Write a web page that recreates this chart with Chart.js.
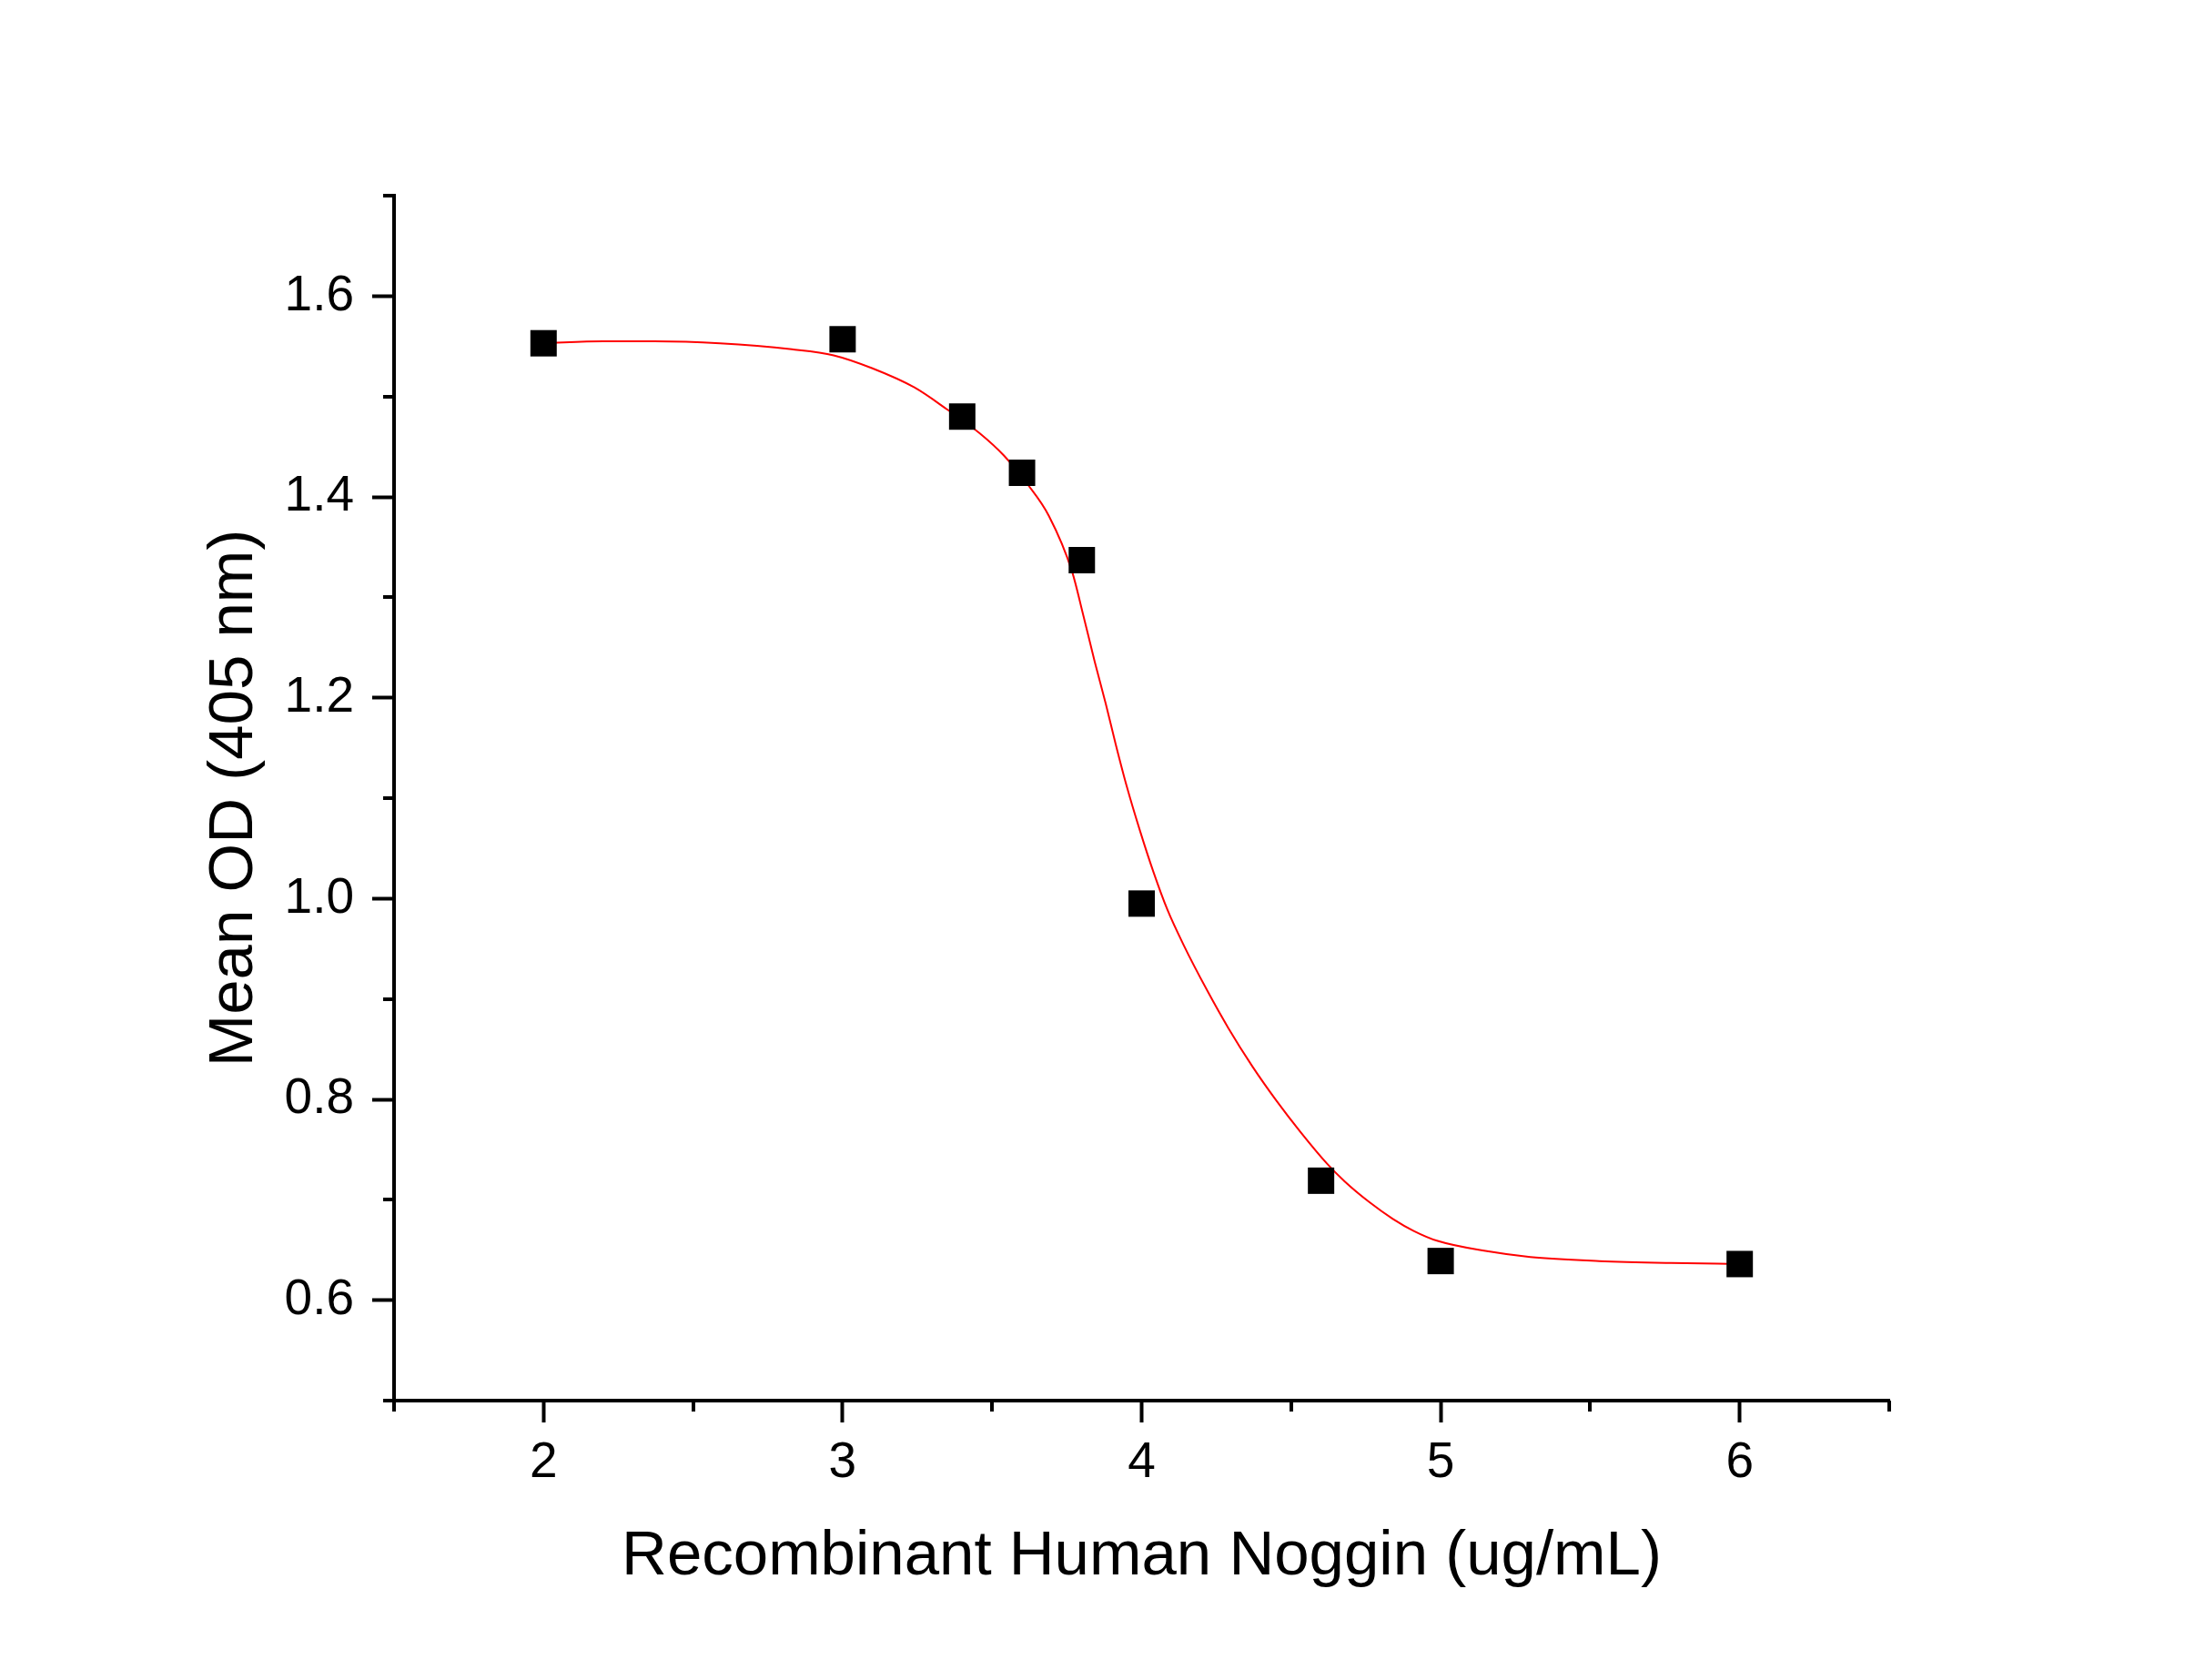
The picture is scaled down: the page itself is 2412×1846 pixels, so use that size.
<!DOCTYPE html>
<html>
<head>
<meta charset="utf-8">
<script src="https://cdn.jsdelivr.net/npm/chart.js@4.4.1/dist/chart.umd.min.js"></script>
<style>
  html, body { margin: 0; padding: 0; background: #ffffff; }
  canvas { display: block; }
</style>
</head>
<body>
<canvas id="c" width="2412" height="1846"></canvas>
<script>
// Measured points
const doseX = [2, 3, 3.4, 3.6, 3.8, 4, 4.6, 5, 6];
const meanOD = [1.553, 1.557, 1.480, 1.424, 1.337, 0.995, 0.719, 0.639, 0.636];

// Fitted curve
const fitX = [2.00, 2.20, 2.37, 2.59, 2.83, 2.97, 3.10, 3.24, 3.35, 3.46, 3.54, 3.62, 3.69, 3.767, 3.805, 3.843, 3.88, 3.913, 3.95, 3.995, 4.04, 4.086, 4.14, 4.22, 4.29, 4.37, 4.45, 4.53, 4.62, 4.68, 4.76, 4.84, 4.91, 4.99, 5.15, 5.30, 5.53, 5.77, 6.00];
const fitY = [1.553, 1.555, 1.555, 1.553, 1.547, 1.541, 1.528, 1.509, 1.487, 1.463, 1.441, 1.412, 1.381, 1.326, 1.282, 1.236, 1.194, 1.154, 1.112, 1.067, 1.026, 0.989, 0.954, 0.908, 0.871, 0.833, 0.799, 0.768, 0.736, 0.718, 0.698, 0.681, 0.669, 0.659, 0.649, 0.643, 0.639, 0.637, 0.636];

// Tick values
const xMajorTicks = [2, 3, 4, 5, 6];
const xMinorTicks = [1.5, 2.5, 3.5, 4.5, 5.5, 6.5];
const yMajorTicks = [0.6, 0.8, 1.0, 1.2, 1.4, 1.6];
const yMinorTicks = [0.5, 0.7, 0.9, 1.1, 1.3, 1.5, 1.7];

const xTitle = 'Recombinant Human Noggin (ug/mL)';
const yTitle = 'Mean OD (405 nm)';

const FONT = '"Liberation Sans", Arial, sans-serif';

const minorTickPlugin = {
  id: 'minorTicks',
  afterDraw(chart) {
    const ctx = chart.ctx;
    const xs = chart.scales.x, ys = chart.scales.y;
    const area = chart.chartArea;
    ctx.save();
    ctx.strokeStyle = '#000';
    ctx.lineWidth = 4;
    ctx.lineCap = 'butt';
    xMinorTicks.forEach(v => {
      const px = Math.round(xs.getPixelForValue(v));
      ctx.beginPath();
      ctx.moveTo(px, area.bottom);
      ctx.lineTo(px, area.bottom + 12);
      ctx.stroke();
    });
    yMinorTicks.forEach(v => {
      const py = Math.round(ys.getPixelForValue(v));
      ctx.beginPath();
      ctx.moveTo(area.left, py);
      ctx.lineTo(area.left - 12, py);
      ctx.stroke();
    });
    ctx.restore();
  }
};

const bgPlugin = {
  id: 'bg',
  beforeDraw(chart) {
    const ctx = chart.ctx;
    ctx.save();
    ctx.fillStyle = '#ffffff';
    ctx.fillRect(0, 0, chart.width, chart.height);
    ctx.restore();
  }
};

new Chart(document.getElementById('c'), {
  type: 'scatter',
  data: {
    datasets: [
      {
        label: 'Mean OD',
        data: doseX.map((x, i) => ({ x: x, y: meanOD[i] })),
        pointStyle: 'rect',
        pointRadius: 20.5,
        pointHoverRadius: 20.5,
        backgroundColor: '#000000',
        borderColor: '#000000',
        borderWidth: 0,
        showLine: false
      },
      {
        label: 'Fit',
        data: fitX.map((x, i) => ({ x: x, y: fitY[i] })),
        showLine: true,
        borderColor: '#ff0000',
        borderWidth: 2,
        pointRadius: 0,
        pointHoverRadius: 0,
        cubicInterpolationMode: 'monotone',
        fill: false
      }
    ]
  },
  options: {
    responsive: false,
    devicePixelRatio: 1,
    animation: false,
    events: [],
    layout: { padding: { left: 0, right: 336, top: 215, bottom: 0 } },
    plugins: {
      legend: { display: false },
      tooltip: { enabled: false },
      title: { display: false }
    },
    scales: {
      x: {
        type: 'linear',
        position: 'bottom',
        min: 1.5,
        max: 6.5,
        afterFit(scale) { scale.height = 307; },
        afterBuildTicks(scale) { scale.ticks = xMajorTicks.map(v => ({ value: v })); },
        ticks: {
          color: '#000',
          font: { family: FONT, size: 55 },
          padding: 12,
          maxRotation: 0,
          autoSkip: false,
          callback: v => String(v)
        },
        grid: {
          display: true,
          drawOnChartArea: false,
          drawTicks: true,
          tickLength: 24,
          tickWidth: 4,
          tickColor: '#000'
        },
        border: { display: true, color: '#000', width: 4 },
        title: {
          display: true,
          text: xTitle,
          color: '#000',
          font: { family: FONT, size: 69 },
          padding: { top: 0, bottom: 94 }
        }
      },
      y: {
        type: 'linear',
        position: 'left',
        min: 0.5,
        max: 1.7,
        afterFit(scale) { scale.width = 433; },
        afterBuildTicks(scale) { scale.ticks = yMajorTicks.map(v => ({ value: v })); },
        ticks: {
          color: '#000',
          font: { family: FONT, size: 55 },
          padding: 20,
          autoSkip: false,
          callback: v => Number(v).toFixed(1)
        },
        grid: {
          display: true,
          drawOnChartArea: false,
          drawTicks: true,
          tickLength: 24,
          tickWidth: 4,
          tickColor: '#000'
        },
        border: { display: true, color: '#000', width: 4 },
        title: {
          display: true,
          text: yTitle,
          color: '#000',
          font: { family: FONT, size: 69 },
          padding: { top: 217, bottom: 0 }
        }
      }
    }
  },
  plugins: [bgPlugin, minorTickPlugin]
});
</script>
</body>
</html>
